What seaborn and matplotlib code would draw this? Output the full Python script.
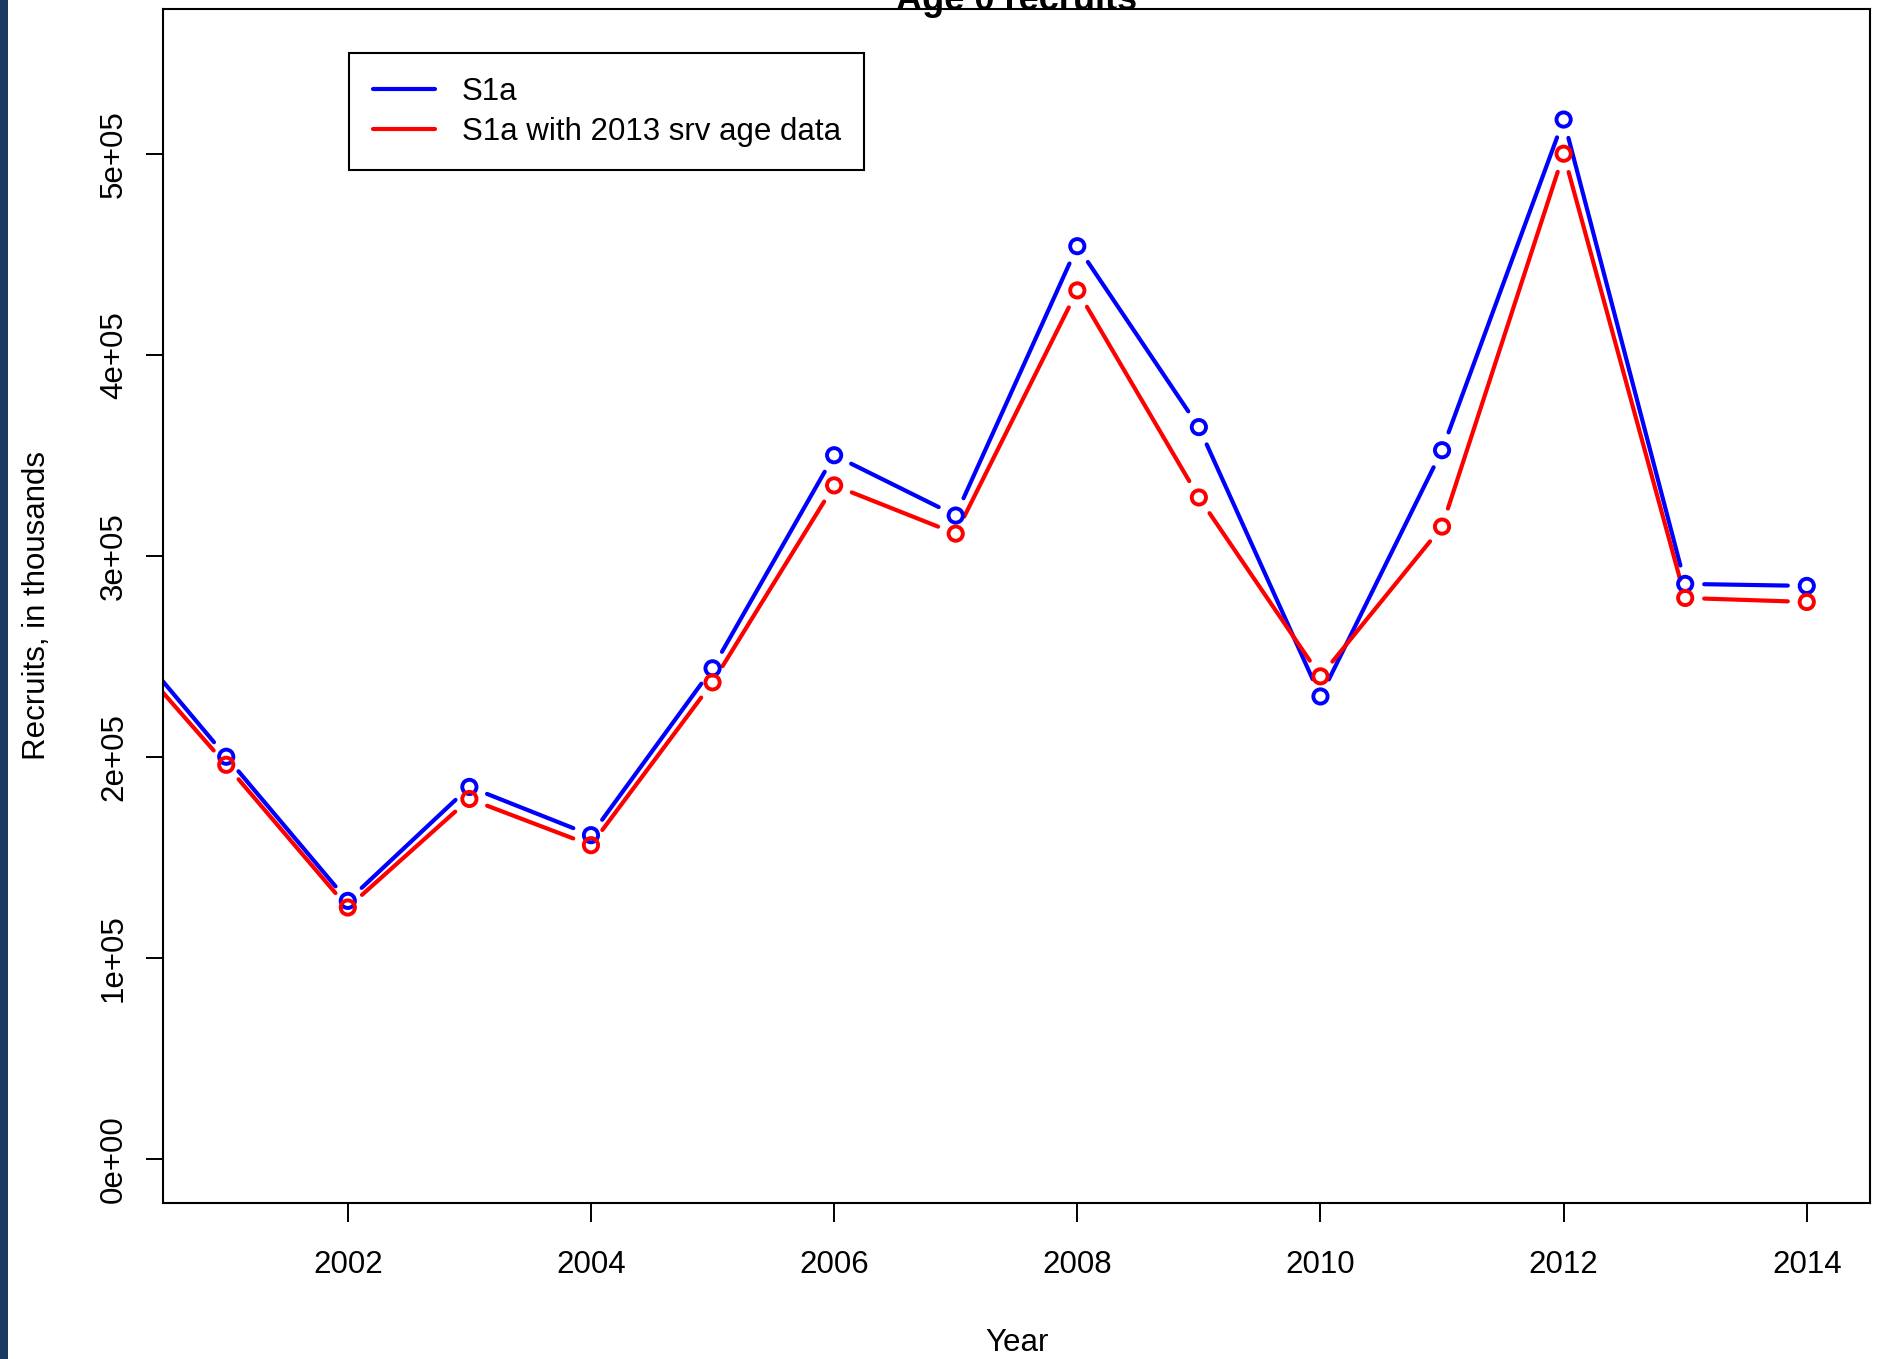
import numpy as np
import matplotlib.pyplot as plt
import seaborn as sns
from matplotlib.lines import Line2D
from matplotlib.patches import Rectangle

# data
years = [2000, 2001, 2002, 2003, 2004, 2005, 2006, 2007,
         2008, 2009, 2010, 2011, 2012, 2013, 2014]
s1a = [272000, 200000, 128300, 185000, 161000, 244000, 350000, 320000,
       454000, 364000, 230000, 352500, 517000, 286000, 285000]
s1a_srv2013 = [265000, 196000, 125000, 179000, 156000, 237000, 335000, 311000,
               432000, 329000, 240000, 314500, 500000, 279000, 277000]
series_names = ["S1a", "S1a with 2013 srv age data"]
series_colors = ["#0000FF", "#FF0000"]
x_ticks = [2002, 2004, 2006, 2008, 2010, 2012, 2014]
y_ticks = [0, 100000, 200000, 300000, 400000, 500000]
y_tick_labels = ["0e+00", "1e+05", "2e+05", "3e+05", "4e+05", "5e+05"]

sns.set_theme(style="white")
plt.rcParams['font.family'] = ['Liberation Sans', 'DejaVu Sans']
for k in ['text.color', 'axes.labelcolor', 'xtick.color', 'ytick.color']:
    plt.rcParams[k] = 'black'

W, H = 1878, 1359
fig = plt.figure(figsize=(W / 100, H / 100), dpi=100)
fig.patches.append(Rectangle((0, 0), 8 / W, 1, transform=fig.transFigure,
                             facecolor="#1B3A5F", edgecolor="none"))

left, right, top, bottom = 163, 1870, 9, 1203
ax = fig.add_axes([left / W, 1 - bottom / H, (right - left) / W, (bottom - top) / H])

# R style limits (4% extension of xlim=c(2001,2014), ylim=c(0,5.5e5))
ax.set_xlim(2001 - 0.52, 2014 + 0.52)
ax.set_ylim(-22000, 572000)


def gapped_line(ax, x, y, color, gap_px=19):
    # mimic R type="b": line segments stop short of each point
    pts = ax.transData.transform(np.column_stack([x, y]))
    inv = ax.transData.inverted()
    for a, b in zip(pts[:-1], pts[1:]):
        d = b - a
        L = np.hypot(*d)
        if L <= 2 * gap_px:
            continue
        u = d / L
        seg = inv.transform(np.array([a + u * gap_px, b - u * gap_px]))
        ax.plot(seg[:, 0], seg[:, 1], color=color, lw=3.0, solid_capstyle='round')


for vals, col in zip([s1a, s1a_srv2013], series_colors):
    gapped_line(ax, years, vals, col)
    sns.scatterplot(x=years, y=vals, ax=ax, marker='o', s=105,
                    facecolors='none', edgecolor=col, linewidth=2.8, zorder=3)

for sp in ax.spines.values():
    sp.set_color("black")
    sp.set_linewidth(1.5)

ax.set_xticks(x_ticks)
ax.set_xticklabels([str(t) for t in x_ticks])
ax.set_yticks(y_ticks)
ax.set_yticklabels(y_tick_labels, rotation=90, va='center')
ax.tick_params(axis='x', direction='out', length=13.5, width=1.4, color='black',
               labelsize=22.5, pad=20, bottom=True)
ax.tick_params(axis='y', direction='out', length=12.5, width=1.4, color='black',
               labelsize=22.5, pad=12, left=True)
ax.set_xlabel("")
ax.set_ylabel("")

handles = [Line2D([], [], color=c, lw=3.0) for c in series_colors]
leg = ax.legend(handles, series_names, loc='upper left',
                bbox_to_anchor=(0.109, 0.963), borderaxespad=0,
                fontsize=22.5, frameon=True, fancybox=False, framealpha=1,
                edgecolor='black', handlelength=2.0, handletextpad=0.85,
                labelspacing=0.33, borderpad=0.75)
leg.get_frame().set_linewidth(1.5)

fig.text(1017 / W, 1 - 10 / H, "Age 0 recruits", ha='center', va='baseline',
         fontsize=26, fontweight='bold', zorder=10)
fig.text(1017 / W, 1 - 1343 / H, "Year", ha='center', va='center', fontsize=22.5)
fig.text(37 / W, 1 - 605 / H, "Recruits, in thousands", ha='center', va='center',
         rotation=90, fontsize=22.5)

fig.savefig("out.png", dpi=100)
